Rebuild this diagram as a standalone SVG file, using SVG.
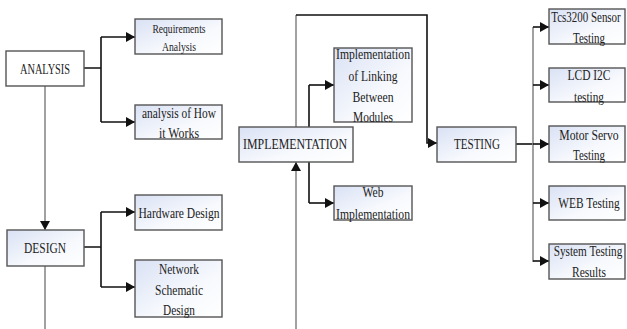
<svg xmlns="http://www.w3.org/2000/svg" width="627" height="329" viewBox="0 0 627 329">
<defs>
<linearGradient id="g" x1="0" y1="0" x2="1" y2="1">
<stop offset="0" stop-color="#d9e1f4"/>
<stop offset="0.6" stop-color="#f7f9fd"/>
<stop offset="1" stop-color="#ffffff"/>
</linearGradient>
<marker id="a" markerWidth="9" markerHeight="10" refX="9" refY="5" orient="auto" markerUnits="userSpaceOnUse">
<path d="M0,0 L9,5 L0,10 Z" fill="#111"/>
</marker>
</defs>
<style>
.b{fill:url(#g);stroke:#555;stroke-width:1.4}
.w{fill:#fff;stroke:#555;stroke-width:1.4}
text{font-family:"Liberation Serif","Times New Roman",serif;font-size:15px;fill:#222;text-anchor:middle}
.s{font-size:13px}
.c{fill:none;stroke:#111;stroke-width:1.6}
.g{fill:none;stroke:#8a8a8a;stroke-width:1.6}
</style>
<g id="connectors">
<path class="g" d="M45,86 V230" marker-end="url(#a)"/>
<path class="g" d="M45,266 V331 H296 V162" marker-end="url(#a)"/>
<path class="c" d="M84,68 H101 M101,37 V122"/>
<path class="c" d="M101,37 H135" marker-end="url(#a)"/>
<path class="c" d="M101,122 H135" marker-end="url(#a)"/>
<path class="c" d="M84,247 H101 M101,212 V287"/>
<path class="c" d="M101,212 H135" marker-end="url(#a)"/>
<path class="c" d="M101,287 H135" marker-end="url(#a)"/>
<path class="g" d="M296,127 V15"/>
<path class="c" d="M296,15 H427 V143 H437" marker-end="url(#a)"/>
<path class="c" d="M309,127 V85 M309,162 V203"/>
<path class="c" d="M309,85 H334" marker-end="url(#a)"/>
<path class="c" d="M309,203 H334" marker-end="url(#a)"/>
<path class="c" d="M516,144 H533"/>
<path class="g" d="M533,27 V262"/>
<path class="c" d="M533,27 H549" marker-end="url(#a)"/>
<path class="c" d="M533,85 H549" marker-end="url(#a)"/>
<path class="c" d="M533,144 H549" marker-end="url(#a)"/>
<path class="c" d="M533,203 H549" marker-end="url(#a)"/>
<path class="c" d="M533,261 H549" marker-end="url(#a)"/>
</g>
<g id="analysis">
<rect class="w" x="6" y="51" width="78" height="35"/>
<text x="45" y="74" textLength="50" lengthAdjust="spacingAndGlyphs">ANALYSIS</text>
</g>
<g id="requirements">
<rect class="b" x="135" y="19" width="87" height="35"/>
<text class="s" x="179" y="33" textLength="53" lengthAdjust="spacingAndGlyphs">Requirements</text>
<text class="s" x="179" y="51" textLength="34" lengthAdjust="spacingAndGlyphs">Analysis</text>
</g>
<g id="how-it-works">
<rect class="b" x="135" y="105" width="87" height="34"/>
<text x="179" y="118" textLength="74" lengthAdjust="spacingAndGlyphs">analysis of How</text>
<text x="179" y="138" textLength="40" lengthAdjust="spacingAndGlyphs">it Works</text>
</g>
<g id="design">
<rect class="b" x="7" y="230" width="77" height="36"/>
<text x="45" y="253" textLength="42" lengthAdjust="spacingAndGlyphs">DESIGN</text>
</g>
<g id="hardware">
<rect class="b" x="135" y="195" width="87" height="35"/>
<text x="179" y="218" textLength="81" lengthAdjust="spacingAndGlyphs">Hardware Design</text>
</g>
<g id="network">
<rect class="b" x="135" y="260" width="87" height="57"/>
<text x="179" y="274" textLength="40" lengthAdjust="spacingAndGlyphs">Network</text>
<text x="179" y="295" textLength="48" lengthAdjust="spacingAndGlyphs">Schematic</text>
<text x="179" y="315" textLength="32" lengthAdjust="spacingAndGlyphs">Design</text>
</g>
<g id="implementation">
<rect class="b" x="239" y="127" width="114" height="35"/>
<text x="295" y="149" textLength="104" lengthAdjust="spacingAndGlyphs">IMPLEMENTATION</text>
</g>
<g id="linking">
<rect class="b" x="334" y="48" width="78" height="74"/>
<text x="373" y="59" textLength="74" lengthAdjust="spacingAndGlyphs">Implementation</text>
<text x="373" y="81" textLength="49" lengthAdjust="spacingAndGlyphs">of Linking</text>
<text x="373" y="102" textLength="41" lengthAdjust="spacingAndGlyphs">Between</text>
<text x="373" y="122" textLength="40" lengthAdjust="spacingAndGlyphs">Modules</text>
</g>
<g id="web-impl">
<rect class="b" x="334" y="186" width="78" height="34"/>
<text x="373" y="197" textLength="21" lengthAdjust="spacingAndGlyphs">Web</text>
<text x="373" y="219" textLength="74" lengthAdjust="spacingAndGlyphs">Implementation</text>
</g>
<g id="testing">
<rect class="b" x="437" y="127" width="79" height="35"/>
<text x="477" y="149" textLength="46" lengthAdjust="spacingAndGlyphs">TESTING</text>
</g>
<g id="tcs3200">
<rect class="b" x="549" y="9" width="76" height="35"/>
<text transform="translate(586,22) scale(0.73,1)">Tcs3200 Sensor</text>
<text x="589" y="43" textLength="32" lengthAdjust="spacingAndGlyphs">Testing</text>
</g>
<g id="lcd">
<rect class="b" x="549" y="68" width="76" height="34"/>
<text x="589" y="80" textLength="43" lengthAdjust="spacingAndGlyphs">LCD I2C</text>
<text x="589" y="102" textLength="30" lengthAdjust="spacingAndGlyphs">testing</text>
</g>
<g id="motor">
<rect class="b" x="549" y="126" width="76" height="36"/>
<text transform="translate(589,140) scale(0.78,1)">Motor Servo</text>
<text x="589" y="160" textLength="32" lengthAdjust="spacingAndGlyphs">Testing</text>
</g>
<g id="web-testing">
<rect class="b" x="549" y="186" width="76" height="34"/>
<text transform="translate(589,208) scale(0.76,1)">WEB Testing</text>
</g>
<g id="system">
<rect class="b" x="549" y="244" width="76" height="35"/>
<text transform="translate(588,256) scale(0.75,1)">System Testing</text>
<text x="589" y="277" textLength="34" lengthAdjust="spacingAndGlyphs">Results</text>
</g>
</svg>
